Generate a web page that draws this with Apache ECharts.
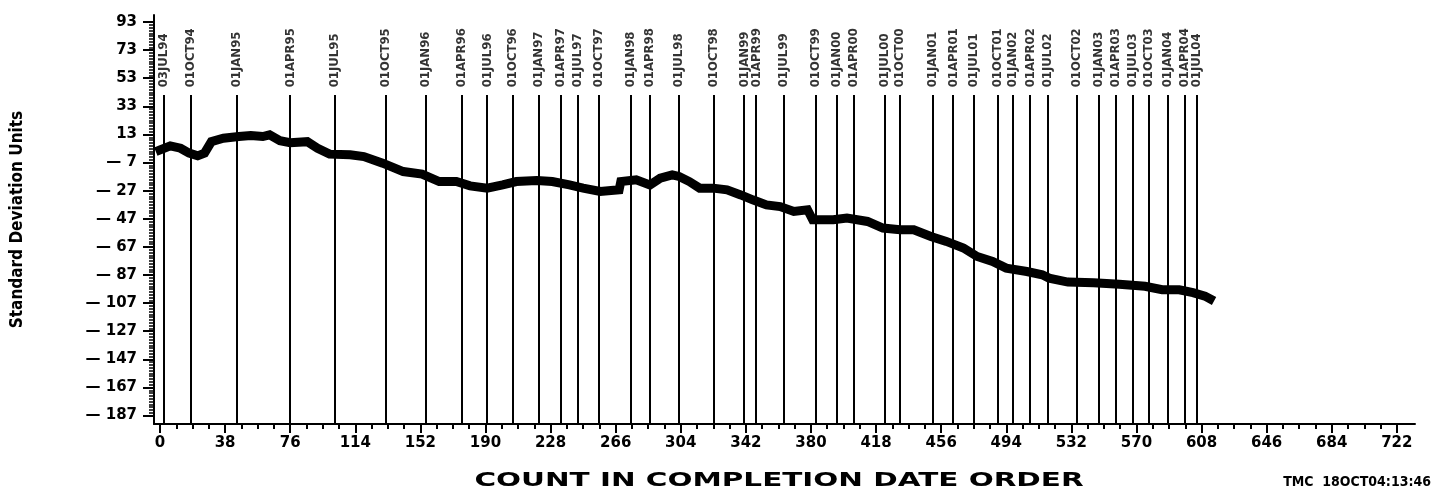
<!DOCTYPE html>
<html>
<head>
<meta charset="utf-8">
<script src="https://cdn.jsdelivr.net/npm/echarts@6/dist/echarts.min.js"></script>
<style>
  html, body { margin: 0; padding: 0; background: #fff; }
  #chart { width: 1445px; height: 497px; }
</style>
</head>
<body>
<div id="chart"></div>
<script>
// Cumulative deviation, plotted against the count in completion-date order
const seriesCounts = [0, 6, 12, 17, 22, 26, 30, 37, 46, 53, 60, 64, 70, 76, 86, 92, 99, 111, 119, 130,
  142, 153, 163, 173, 181, 191, 200, 208, 220, 229, 239, 247, 257, 268, 269, 278, 286, 292, 299, 303,
  309, 315, 323, 331, 339, 346, 354, 362, 370, 378, 381, 393, 401, 413, 422, 432, 440, 450, 459, 469,
  477, 486, 494, 506, 515, 519, 530, 545, 560, 575, 585, 595, 603, 610, 613];
const seriesValues = [2.0, 4.9, 3.2, -0.3, -2.2, -0.3, 7.9, 10.3, 11.5, 12.2, 11.5, 12.7, 8.6, 7.2, 7.9, 3.2, -1.0, -1.5, -2.7, -7.4,
  -13.4, -15.2, -20.5, -20.5, -23.6, -25.2, -22.9, -20.5, -19.8, -20.5, -22.9, -25.2, -27.6, -26.4, -20.5, -19.3, -22.9, -18.1, -15.7, -16.9,
  -20.5, -25.2, -25.2, -26.4, -30.0, -33.5, -37.1, -38.3, -41.8, -40.6, -47.7, -47.7, -46.5, -48.9, -53.6, -54.8, -54.8, -59.6, -63.1, -67.8,
  -73.8, -77.4, -82.1, -84.5, -86.8, -89.2, -92.0, -92.5, -93.5, -95.0, -97.5, -97.5, -99.5, -102.0, -104.0];

// Quarter boundaries marked as reference lines
const markerCounts = [2, 18, 45, 76, 102, 132, 155, 176, 191, 206, 221, 234, 244, 256, 275, 286, 303, 323, 341, 348,
  364, 383, 395, 405, 423, 432, 451, 463, 475, 489, 498, 508, 518, 535, 548, 558, 568, 577, 588, 598, 605];
const markerLabels = ['03JUL94', '01OCT94', '01JAN95', '01APR95', '01JUL95', '01OCT95', '01JAN96', '01APR96', '01JUL96', '01OCT96',
  '01JAN97', '01APR97', '01JUL97', '01OCT97', '01JAN98', '01APR98', '01JUL98', '01OCT98', '01JAN99', '01APR99',
  '01JUL99', '01OCT99', '01JAN00', '01APR00', '01JUL00', '01OCT00', '01JAN01', '01APR01', '01JUL01', '01OCT01',
  '01JAN02', '01APR02', '01JUL02', '01OCT02', '01JAN03', '01APR03', '01JUL03', '01OCT03', '01JAN04', '01APR04', '01JUL04'];

// Tick values
const xTicks = [0, 38, 76, 114, 152, 190, 228, 266, 304, 342, 380, 418, 456, 494, 532, 570, 608, 646, 684, 722];
const yTicks = [93, 73, 53, 33, 13, -7, -27, -47, -67, -87, -107, -127, -147, -167, -187];

const X_MIN = -3.5, X_MAX = 732.6, Y_MIN = -193, Y_MAX = 98;
const LINE_TOP = 41;      // upper end of the quarter lines
const LABEL_BASE = 43;    // where the rotated quarter labels start

const xMinor = [];
for (let i = 0; i < xTicks.length - 1; i++) {
  for (let k = 1; k < 4; k++) xMinor.push(xTicks[i] + (xTicks[i + 1] - xTicks[i]) * k / 4);
}
const yMinor = [];
for (let i = 0; i < yTicks.length - 1; i++) {
  for (let k = 1; k < 10; k++) yMinor.push(yTicks[i] + (yTicks[i + 1] - yTicks[i]) * k / 10);
}

const NARROW = "'Liberation Sans Narrow', 'DejaVu Sans Condensed', 'Roboto Condensed', sans-serif";
const WIDE = "'DejaVu Sans', 'Verdana', sans-serif";

const chart = echarts.init(document.getElementById('chart'), null, { renderer: 'canvas' });

chart.setOption({
  animation: false,
  backgroundColor: '#ffffff',
  grid: { left: 154, top: 15, width: 1261, height: 409, containLabel: false },
  xAxis: [
    {
      type: 'value', min: X_MIN, max: X_MAX, position: 'bottom',
      axisLine: { show: true, onZero: false, lineStyle: { color: '#000', width: 2 } },
      axisTick: { show: true, customValues: xTicks, length: 9, lineStyle: { color: '#000', width: 2 } },
      axisLabel: { show: true, customValues: xTicks, margin: 12, color: '#000',
        fontFamily: WIDE, fontWeight: 'bold', fontSize: 15 },
      splitLine: { show: false }
    },
    {
      type: 'value', min: X_MIN, max: X_MAX, position: 'bottom', offset: 0,
      axisLine: { show: false, onZero: false },
      axisTick: { show: true, customValues: xMinor, length: 5, lineStyle: { color: '#000', width: 2 } },
      axisLabel: { show: false },
      splitLine: { show: false }
    }
  ],
  yAxis: [
    {
      type: 'value', min: Y_MIN, max: Y_MAX, position: 'left',
      name: 'Standard Deviation Units', nameLocation: 'middle', nameGap: 128, nameRotate: 90,
      nameTextStyle: { color: '#000', fontFamily: NARROW, fontWeight: 'bold', fontSize: 17 },
      axisLine: { show: true, onZero: false, lineStyle: { color: '#000', width: 2 } },
      axisTick: { show: true, customValues: yTicks, length: 11, lineStyle: { color: '#000', width: 2 } },
      axisLabel: { show: true, customValues: yTicks, margin: 17, color: '#000',
        fontFamily: WIDE, fontWeight: 'bold', fontSize: 15,
        formatter: v => (v < 0 ? '\u2014 ' + Math.abs(v) : String(v)) },
      splitLine: { show: false }
    },
    {
      type: 'value', min: Y_MIN, max: Y_MAX, position: 'left', offset: 0,
      axisLine: { show: false, onZero: false },
      axisTick: { show: true, customValues: yMinor, length: 5, lineStyle: { color: '#000', width: 1.5 } },
      axisLabel: { show: false },
      splitLine: { show: false }
    }
  ],
  series: [
    {
      name: 'quarters', type: 'scatter', xAxisIndex: 0, yAxisIndex: 0,
      symbolSize: 0, silent: true,
      data: markerCounts.map((c, i) => ({ value: [c, LABEL_BASE], name: markerLabels[i] })),
      label: {
        show: true, position: 'inside', rotate: 90, align: 'left', verticalAlign: 'middle',
        offset: [5, 0], formatter: p => p.name,
        color: '#000', fontFamily: NARROW, fontWeight: 'bold', fontSize: 13
      },
      markLine: {
        silent: true, symbol: ['none', 'none'],
        label: { show: false },
        lineStyle: { color: '#000', width: 2, type: 'solid' },
        data: markerCounts.map(c => [{ coord: [c, LINE_TOP] }, { coord: [c, Y_MIN] }])
      },
      z: 3
    },
    {
      name: 'deviation', type: 'line', xAxisIndex: 0, yAxisIndex: 0,
      data: seriesCounts.map((c, i) => [c, seriesValues[i]]),
      symbol: 'none', smooth: false,
      lineStyle: { color: '#000', width: 9, cap: 'square', join: 'miter' },
      z: 4
    }
  ],
  graphic: [
    {
      type: 'text', x: 779, y: 481, scaleX: 1.55, silent: true,
      style: { text: 'COUNT IN COMPLETION DATE ORDER', fill: '#000',
        font: "bold 19px 'DejaVu Sans', sans-serif", textAlign: 'center', textVerticalAlign: 'middle' }
    },
    {
      type: 'text', x: 1431, y: 482, silent: true,
      style: { text: 'TMC  18OCT04:13:46', fill: '#000',
        font: "bold 14px " + NARROW, textAlign: 'right', textVerticalAlign: 'middle' }
    }
  ]
});
</script>
</body>
</html>
